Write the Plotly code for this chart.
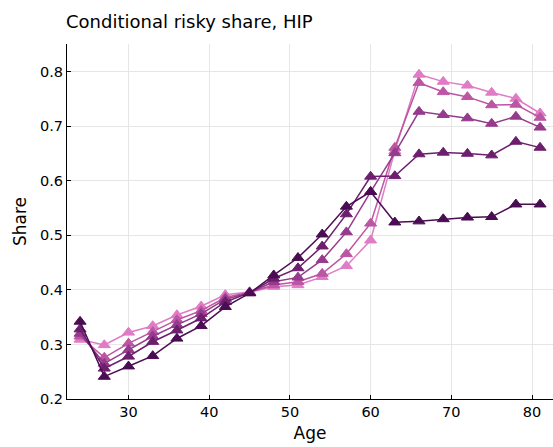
import plotly.graph_objects as go

# Age grid (every three years)
ages = [24, 27, 30, 33, 36, 39, 42, 45, 48, 51, 54, 57, 60, 63, 66, 69, 72, 75, 78, 81]

# Conditional risky share by age, one series per group
share_1 = [0.342, 0.241, 0.260, 0.279, 0.311, 0.334, 0.369, 0.394, 0.427, 0.459, 0.502, 0.553, 0.580,
           0.524, 0.526, 0.530, 0.533, 0.534, 0.557, 0.557]
share_2 = [0.328, 0.256, 0.278, 0.305, 0.326, 0.348, 0.378, 0.395, 0.421, 0.440, 0.480, 0.539, 0.608,
           0.609, 0.649, 0.652, 0.650, 0.647, 0.672, 0.661]
share_3 = [0.320, 0.265, 0.290, 0.315, 0.336, 0.356, 0.383, 0.395, 0.415, 0.423, 0.455, 0.506, 0.580,
           0.651, 0.727, 0.721, 0.715, 0.705, 0.718, 0.698]
share_4 = [0.315, 0.276, 0.302, 0.323, 0.345, 0.362, 0.386, 0.396, 0.409, 0.415, 0.430, 0.466, 0.522,
           0.661, 0.780, 0.763, 0.754, 0.739, 0.740, 0.716]
share_5 = [0.309, 0.299, 0.322, 0.334, 0.354, 0.370, 0.391, 0.396, 0.406, 0.409, 0.424, 0.444, 0.491,
           0.655, 0.795, 0.782, 0.775, 0.762, 0.751, 0.724]

series = [share_1, share_2, share_3, share_4, share_5]
colors = ["#4a0c52", "#6d1f6e", "#953a8c", "#bc55a3", "#e07bc6"]

fig = go.Figure()
# lighter groups first so the darker lines sit on top
for vals, col in reversed(list(zip(series, colors))):
    fig.add_trace(go.Scatter(
        x=ages, y=vals, mode="lines+markers",
        line=dict(color=col, width=1.5),
        marker=dict(symbol="triangle-up", size=10.5, color=col, line=dict(color=col, width=1)),
        showlegend=False,
    ))

font = "DejaVu Sans, sans-serif"
axis_common = dict(
    showgrid=True, gridcolor="#e6e6e6", gridwidth=1,
    zeroline=False, showline=True, linecolor="black", linewidth=1,
    ticks="inside", ticklen=4, tickcolor="black",
    tickfont=dict(family=font, size=14.5, color="black"),
    mirror=False,
)

fig.update_layout(
    width=553, height=447,
    margin=dict(l=67, r=0, t=44, b=48),
    paper_bgcolor="white", plot_bgcolor="white",
    title=dict(text="Conditional risky share, HIP", x=66 / 553, xanchor="left", xref="container",
               y=1 - 22 / 447, yanchor="middle", yref="container",
               font=dict(family=font, size=18, color="black")),
    xaxis=dict(range=[22.38, 82.6], tickvals=[30, 40, 50, 60, 70, 80],
               title=dict(text="Age", font=dict(family=font, size=17, color="black"), standoff=7),
               **axis_common),
    yaxis=dict(range=[0.2, 0.851], tickvals=[0.2, 0.3, 0.4, 0.5, 0.6, 0.7, 0.8], tickformat=".1f",
               title=dict(text="Share", font=dict(family=font, size=17, color="black"), standoff=9),
               **axis_common),
)

fig.write_html("out.html")
